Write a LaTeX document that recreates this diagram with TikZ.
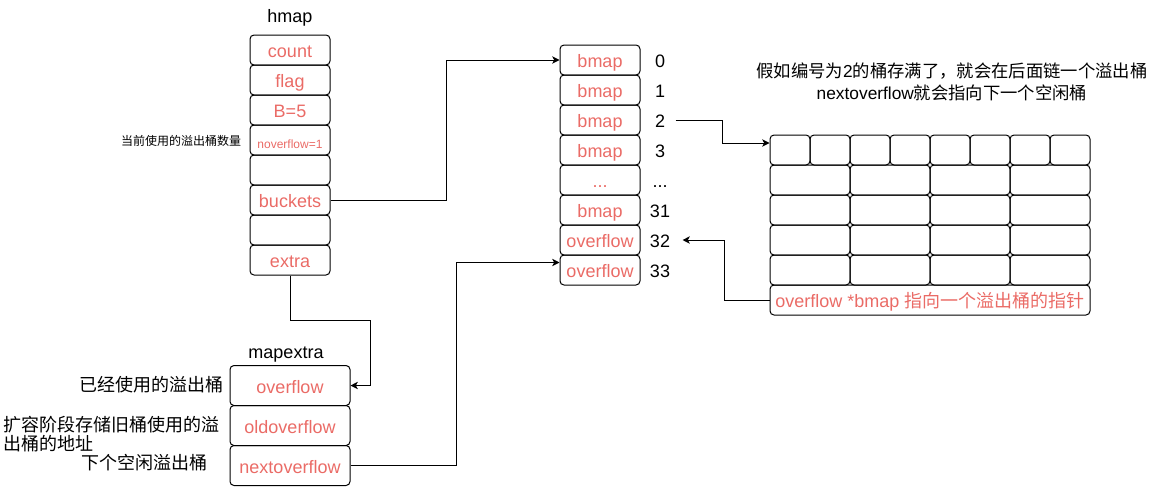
\documentclass[tikz,border=0pt]{standalone}
\usepackage{fontspec}
\setmainfont{Liberation Sans}
\newfontfamily\cjk{Noto Sans CJK SC}
\usetikzlibrary{arrows.meta,calc}

\definecolor{fieldred}{HTML}{EA6B66}
\newcommand\bigtxt{\fontsize{13.5}{16}\selectfont}
\newcommand\smalltxt{\fontsize{9}{11}\selectfont}

\tikzset{every picture/.style={line width=0.75pt}}
\tikzset{
  field/.style={draw, rounded corners=3pt, minimum width=60pt, minimum height=22.5pt, inner sep=0pt,
    text=fieldred, font=\bigtxt, text height=11.4pt, text depth=0pt},
  wide field/.style={field, minimum width=90pt, minimum height=30pt},
  cell/.style={draw, rounded corners=3pt, minimum width=30pt, minimum height=22.5pt, inner sep=0pt},
  cell2/.style={cell, minimum width=60pt},
  lbl/.style={font=\bigtxt, inner sep=0pt, text height=11.4pt, text depth=0pt},
  note/.style={inner sep=0pt},
  link/.style={-{Stealth[length=5.5pt,width=5.5pt,inset=1.5pt]}},
}

\begin{document}
\begin{tikzpicture}[x=0.75pt,y=0.75pt,yscale=-1,xscale=1]
    \useasboundingbox (0,0) rectangle (1171,486);

    %Shape: hmap fields
    \draw (290,50) node[field] (hcount) {count};
    \draw (290,80) node[field] (hflag) {flag};
    \draw (290,110) node[field] (hb) {B=5};
    \draw (290,140) node[field, font=\smalltxt, text height=12.4pt] (hnover) {noverflow=1};
    \draw (290,170) node[field] (hempty1) {};
    \draw (290,200) node[field] (hbuckets) {buckets};
    \draw (290,230) node[field] (hempty2) {};
    \draw (290,260) node[field] (hextra) {extra};

    %Shape: bucket array
    \draw (600,60) node[field] (b0) {bmap};
    \draw (600,90) node[field] (b1) {bmap};
    \draw (600,120) node[field] (b2) {bmap};
    \draw (600,150) node[field] (b3) {bmap};
    \draw (600,180) node[field] (bdots) {...};
    \draw (600,210) node[field] (b31) {bmap};
    \draw (600,240) node[field] (b32) {overflow};
    \draw (600,270) node[field] (b33) {overflow};

    %Shape: mapextra fields
    \draw (290,385.5) node[wide field] (moverflow) {overflow};
    \draw (290,425.5) node[wide field] (mold) {oldoverflow};
    \draw (290,465.5) node[wide field] (mnext) {nextoverflow};

    %Shape: overflow bucket, top row
    \draw (790,150) node[cell] (g1) {};
    \draw (830,150) node[cell] (g2) {};
    \draw (870,150) node[cell] (g3) {};
    \draw (910,150) node[cell] (g4) {};
    \draw (950,150) node[cell] (g5) {};
    \draw (990,150) node[cell] (g6) {};
    \draw (1030,150) node[cell] (g7) {};
    \draw (1070,150) node[cell] (g8) {};
    %Shape: overflow bucket, rows
    \draw (810,180) node[cell2] (g21) {};
    \draw (890,180) node[cell2] (g22) {};
    \draw (970,180) node[cell2] (g23) {};
    \draw (1050,180) node[cell2] (g24) {};
    \draw (810,210) node[cell2] (g31) {};
    \draw (890,210) node[cell2] (g32) {};
    \draw (970,210) node[cell2] (g33) {};
    \draw (1050,210) node[cell2] (g34) {};
    \draw (810,240) node[cell2] (g41) {};
    \draw (890,240) node[cell2] (g42) {};
    \draw (970,240) node[cell2] (g43) {};
    \draw (1050,240) node[cell2] (g44) {};
    \draw (810,270) node[cell2] (g51) {};
    \draw (890,270) node[cell2] (g52) {};
    \draw (970,270) node[cell2] (g53) {};
    \draw (1050,270) node[cell2] (g54) {};
    \draw (930,300) node[field, minimum width=240pt] (gtail) {overflow *bmap {\cjk 指向一个溢出桶的指针}};

    % Text Node
    \draw (290,14.5) node[lbl] (lhmap) {hmap};
    % Text Node
    \draw (286,350.5) node[lbl] (lmapextra) {mapextra};
    % Text Node
    \draw (660,60) node[lbl] (i0) {0};
    \draw (660,90) node[lbl] (i1) {1};
    \draw (660,120) node[lbl] (i2) {2};
    \draw (660,150) node[lbl] (i3) {3};
    \draw (660,180) node[lbl] (idots) {...};
    \draw (660,210) node[lbl] (i31) {31};
    \draw (660,240) node[lbl] (i32) {32};
    \draw (660,270) node[lbl] (i33) {33};
    % Text Node
    \draw (181,141) node[note, font=\smalltxt\cjk] (lnover) {当前使用的溢出桶数量};
    % Text Node
    \draw (151,385) node[note, font=\bigtxt\cjk] (lused) {已经使用的溢出桶};
    % Text Node
    \draw (3,434) node[note, anchor=west, align=left, font=\fontsize{13.5}{14}\selectfont\cjk] (lold) {扩容阶段存储旧桶使用的溢\\出桶的地址};
    % Text Node
    \draw (144,463) node[note, font=\bigtxt\cjk] (lnext) {下个空闲溢出桶};
    % Text Node
    \draw (952,82) node[note, align=center, font=\fontsize{13}{16}\selectfont] (lfull) {{\cjk 假如编号为}2{\cjk 的桶存满了，就会在后面链一个溢出桶}\\nextoverflow{\cjk 就会指向下一个空闲桶}};

    %Straight Lines: buckets -> bmap 0
    \draw[link] (hbuckets.east) -- ++(115.5,0) |- (b0.west);
    %Straight Lines: extra -> mapextra
    \draw[link] (hextra.south) -- ++(0,45) -| ($(moverflow.east)+(20,0)$) -- (moverflow.east);
    %Straight Lines: nextoverflow -> bmap 33
    \draw[link] (mnext.east) -- ++(105.5,0) |- ($(b33.west)+(0,-7.5)$);
    %Straight Lines: bucket 2 -> overflow bucket
    \draw[link] ($(i2.east)+(10,0)$) -| ($(g1.west)+(-47.5,-7)$) -- ($(g1.west)+(0,-7)$);
    %Straight Lines: overflow pointer -> bmap 32
    \draw[link] (gtail.west) -- ++(-45,0) |- ($(i32.east)+(12,0)$);
\end{tikzpicture}
\end{document}
